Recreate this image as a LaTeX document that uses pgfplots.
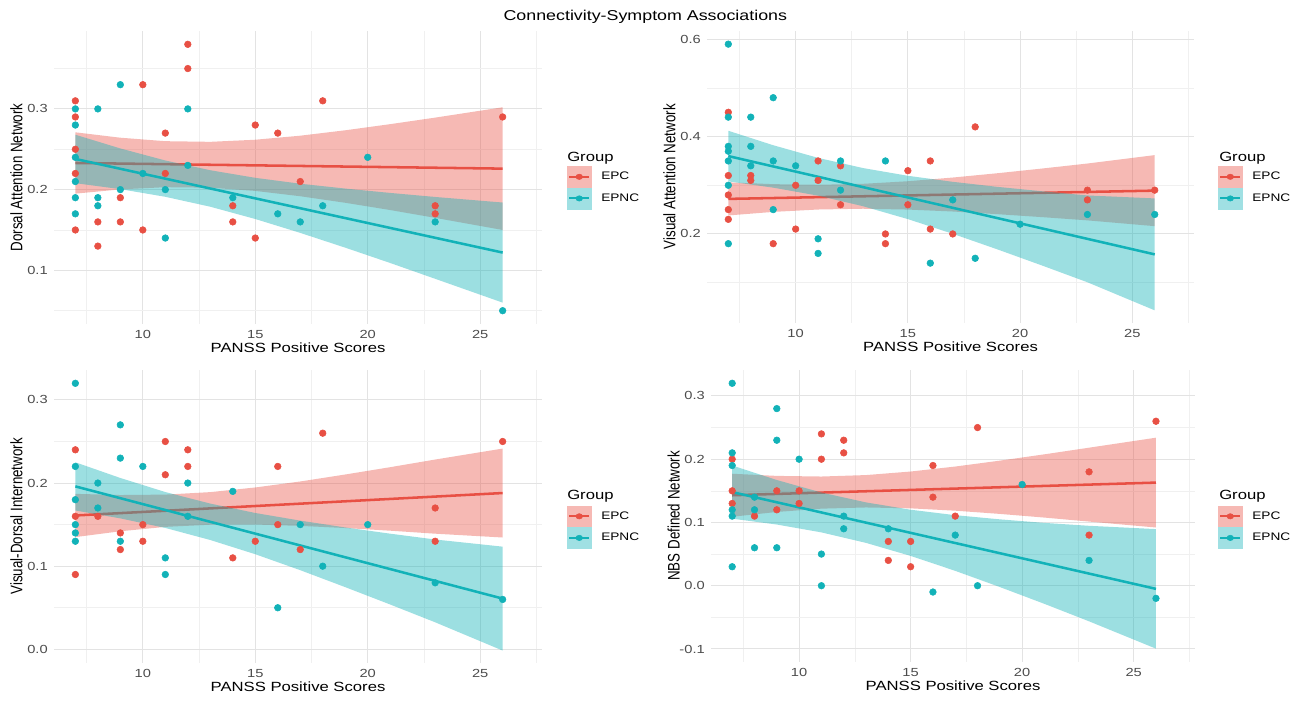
\documentclass[border=0pt]{standalone}
\usepackage{fontspec}
\setmainfont{Liberation Sans}[FakeStretch=1.25]
\newfontfamily\ylabfont{Liberation Sans}
\usepackage{pgfplots}
\usepackage{pgfplotstable}
\pgfplotsset{compat=1.18}
\definecolor{epc}{RGB}{232,80,68}
\definecolor{epnc}{RGB}{18,178,184}

% ---------------- data: points ----------------
\pgfplotstableread{
x y
7 0.31
7 0.29
7 0.25
7 0.22
7 0.15
8 0.16
8 0.13
9 0.19
9 0.16
10 0.33
10 0.15
11 0.27
11 0.22
12 0.38
12 0.35
14 0.18
14 0.16
15 0.28
15 0.14
16 0.27
17 0.21
18 0.31
23 0.18
23 0.17
26 0.29
}\Aepc
\pgfplotstableread{
x y
7 0.30
7 0.28
7 0.24
7 0.21
7 0.19
7 0.17
8 0.30
8 0.19
8 0.18
9 0.33
9 0.20
10 0.22
11 0.20
11 0.14
12 0.30
12 0.23
14 0.19
16 0.17
17 0.16
18 0.18
20 0.24
23 0.16
26 0.05
}\Aepnc
\pgfplotstableread{
x y
7 0.45
7 0.32
7 0.28
7 0.25
7 0.23
8 0.32
8 0.31
9 0.18
10 0.30
10 0.21
11 0.35
11 0.31
12 0.34
12 0.26
14 0.20
14 0.18
15 0.33
15 0.26
16 0.35
16 0.21
17 0.20
18 0.42
23 0.29
23 0.27
26 0.29
}\Bepc
\pgfplotstableread{
x y
7 0.59
7 0.44
7 0.38
7 0.37
7 0.35
7 0.30
7 0.18
8 0.44
8 0.38
8 0.34
9 0.48
9 0.35
9 0.25
10 0.34
11 0.19
11 0.16
12 0.35
12 0.29
14 0.35
16 0.14
17 0.27
18 0.15
20 0.22
23 0.24
26 0.24
}\Bepnc
\pgfplotstableread{
x y
7 0.24
7 0.16
7 0.09
8 0.16
9 0.14
9 0.12
10 0.15
10 0.13
11 0.25
11 0.21
12 0.24
12 0.22
14 0.11
15 0.13
16 0.22
16 0.15
17 0.12
18 0.26
23 0.17
23 0.13
26 0.25
}\Cepc
\pgfplotstableread{
x y
7 0.32
7 0.22
7 0.18
7 0.15
7 0.14
7 0.13
8 0.20
8 0.17
9 0.27
9 0.23
9 0.13
10 0.22
11 0.11
11 0.09
12 0.20
12 0.16
14 0.19
16 0.05
17 0.15
18 0.10
20 0.15
23 0.08
26 0.06
}\Cepnc
\pgfplotstableread{
x y
7 0.20
7 0.15
7 0.13
8 0.11
9 0.15
9 0.12
10 0.15
10 0.13
11 0.24
11 0.20
12 0.23
12 0.21
14 0.07
14 0.04
15 0.07
15 0.03
16 0.19
16 0.14
17 0.11
18 0.25
23 0.18
23 0.08
26 0.26
}\Depc
\pgfplotstableread{
x y
7 0.32
7 0.21
7 0.19
7 0.12
7 0.11
7 0.03
8 0.14
8 0.12
8 0.06
9 0.28
9 0.23
9 0.06
10 0.20
11 0.05
11 0.00
12 0.11
12 0.09
14 0.09
16 -0.01
17 0.08
18 0.00
20 0.16
23 0.04
26 -0.02
}\Depnc

\pgfplotsset{
  panel/.style={
    scale only axis,
    xmin=6.05, xmax=27.75,
    xtick={10,15,20,25}, xticklabels={10,15,20,25},
    minor xtick={7.5,12.5,17.5,22.5,27.5},
    grid=both,
    major grid style={draw=black!11, line width=0.75pt},
    minor grid style={draw=black!6, line width=0.45pt},
    axis line style={draw=none},
    major tick length=0pt, minor tick length=0pt,
    tick style={draw=none}, minor tick style={draw=none}, major tick style={draw=none},
    tick label style={font=\fontsize{8.8}{10}\selectfont, text=black!70, inner sep=0pt},
    xticklabel style={anchor=north, yshift=-4.8pt},
    yticklabel style={anchor=east, xshift=-4.5pt},
    xlabel={PANSS Positive Scores},
    xlabel style={at={(axis description cs:0.5,0)}, anchor=north, yshift=-14pt, inner sep=0pt, font=\fontsize{10}{12}\selectfont},
    ylabel style={at={(axis description cs:-0.064,0.5)}, anchor=south, inner sep=0pt, yscale=1.25, font=\ylabfont\fontsize{10}{12}\selectfont},
    legend cell align=left,
    legend style={draw=none, fill=none, inner sep=0pt, outer sep=0pt, anchor=north west,
      font=\fontsize{8.2}{10}\selectfont, nodes={inner sep=0pt}, row sep=0pt, column sep=7.3pt},
  },
  ptsred/.style={only marks, mark=*, mark size=2.5pt, color=epc, mark options={draw=epc, fill=epc}, forget plot},
  ptscyan/.style={only marks, mark=*, mark size=2.5pt, color=epnc, mark options={draw=epnc, fill=epnc}, forget plot},
  ribred/.style={draw=none, fill=epc, fill opacity=0.4, forget plot},
  ribcyan/.style={draw=none, fill=epnc, fill opacity=0.42, forget plot},
  linered/.style={draw=epc, line width=1.9pt, forget plot},
  linecyan/.style={draw=epnc, line width=1.9pt, forget plot},
  keys/.code={
    \addlegendimage{legend image code/.code={
      \fill[epc!40] (0pt,-7.9pt) rectangle (18pt,7.9pt);
      \draw[epc, line width=1.5pt] (1.5pt,0pt) -- (16.5pt,0pt);
      \fill[epc] (9pt,0pt) ellipse (2.5pt and 2pt);}}
    \addlegendentry{EPC}
    \addlegendimage{legend image code/.code={
      \fill[epnc!40] (0pt,-7.9pt) rectangle (18pt,7.9pt);
      \draw[epnc, line width=1.5pt] (1.5pt,0pt) -- (16.5pt,0pt);
      \fill[epnc] (9pt,0pt) ellipse (2.5pt and 2pt);}}
    \addlegendentry{EPNC}
  },
}

\begin{document}
\begin{tikzpicture}
\path[use as bounding box] (0pt,0pt) rectangle (979.5pt,-525.75pt);

\node[anchor=base, font=\fontsize{10.7}{13}\selectfont] at (484pt,-15.4pt) {Connectivity-Symptom Associations};

% ---------------- Panel A ----------------
\begin{axis}[panel, at={(40.5pt,-243pt)}, anchor=south west, width=366pt, height=219.75pt,
  ymin=0.0335, ymax=0.3965, ytick={0.1,0.2,0.3}, yticklabels={0.1,0.2,0.3},
  minor ytick={0.05,0.15,0.25,0.35},
  ylabel={Dorsal Attention Network},
  legend style={at={(axis description cs:1.0512,0.5392)}}]
\addplot[ptsred] table {\Aepc};
\addplot[ptscyan] table {\Aepnc};
\addplot[ribred] coordinates {(7,0.271) (9,0.2643) (11,0.260) (13,0.2592) (15,0.2618) (17,0.2668) (19,0.2735) (21,0.2811) (23,0.2892) (26,0.302)
 (26,0.150) (23,0.165) (21,0.1747) (19,0.1837) (17,0.1918) (15,0.1984) (13,0.2024) (11,0.203) (9,0.2003) (7,0.195)} -- cycle;
\addplot[linered] coordinates {(7,0.233) (26,0.226)};
\addplot[ribcyan] coordinates {(7,0.268) (9,0.251) (11,0.2361) (13,0.224) (15,0.2146) (17,0.2073) (19,0.2013) (21,0.1959) (23,0.1909) (26,0.184)
 (26,0.060) (23,0.0895) (21,0.1091) (19,0.1281) (17,0.1464) (15,0.1636) (13,0.1788) (11,0.1911) (9,0.2006) (7,0.208)} -- cycle;
\addplot[linecyan] coordinates {(7,0.238) (26,0.122)};
\pgfplotsset{keys}
\end{axis}

% ---------------- Panel B ----------------
\begin{axis}[panel, at={(530.25pt,-241.875pt)}, anchor=south west, width=365.25pt, height=218.625pt,
  ymin=0.018, ymax=0.617, ytick={0.2,0.4,0.6}, yticklabels={0.2,0.4,0.6},
  minor ytick={0.1,0.3,0.5},
  ylabel={Visual Attention Network},
  legend style={at={(axis description cs:1.0493,0.5369)}}]
\addplot[ptsred] table {\Bepc};
\addplot[ptscyan] table {\Bepnc};
\addplot[ribred] coordinates {(7,0.306) (9,0.3023) (11,0.3010) (13,0.3030) (15,0.3083) (17,0.3159) (19,0.3248) (21,0.3345) (23,0.3447) (26,0.362)
 (26,0.216) (23,0.2279) (21,0.2345) (19,0.2406) (17,0.2461) (15,0.2501) (13,0.2518) (11,0.2502) (9,0.2453) (7,0.238)} -- cycle;
\addplot[linered] coordinates {(7,0.272) (26,0.289)};
\addplot[ribcyan] coordinates {(7,0.412) (9,0.3823) (11,0.3563) (13,0.3354) (15,0.3195) (17,0.3071) (19,0.2967) (21,0.2876) (23,0.2791) (26,0.273)
 (26,0.043) (23,0.1007) (21,0.1348) (19,0.1681) (17,0.2003) (15,0.2305) (13,0.2570) (11,0.2787) (9,0.2951) (7,0.308)} -- cycle;
\addplot[linecyan] coordinates {(7,0.360) (26,0.158)};
\pgfplotsset{keys}
\end{axis}

% ---------------- Panel C ----------------
\begin{axis}[panel, at={(40.5pt,-496.95pt)}, anchor=south west, width=366pt, height=219.45pt,
  ymin=-0.016, ymax=0.336, ytick={0,0.1,0.2,0.3}, yticklabels={0.0,0.1,0.2,0.3},
  minor ytick={0.05,0.15,0.25},
  ylabel={Visual-Dorsal Internetwork},
  legend style={at={(axis description cs:1.0512,0.5369)}}]
\addplot[ptsred] table {\Cepc};
\addplot[ptscyan] table {\Cepnc};
\addplot[ribred] coordinates {(7,0.187) (9,0.1856) (11,0.1861) (13,0.1891) (15,0.1947) (17,0.2019) (19,0.2103) (21,0.2191) (23,0.2283) (26,0.2415)
 (26,0.1345) (23,0.1391) (21,0.1427) (19,0.1459) (17,0.1485) (15,0.1501) (13,0.1499) (11,0.1473) (9,0.1420) (7,0.135)} -- cycle;
\addplot[linered] coordinates {(7,0.161) (26,0.188)};
\addplot[ribcyan] coordinates {(7,0.225) (9,0.2061) (11,0.1892) (13,0.1753) (15,0.1640) (17,0.1548) (19,0.1466) (21,0.1391) (23,0.1321) (26,0.1235)
 (26,-0.0015) (23,0.0325) (21,0.0539) (19,0.0748) (17,0.0952) (15,0.1144) (13,0.1315) (11,0.1460) (9,0.1575) (7,0.167)} -- cycle;
\addplot[linecyan] coordinates {(7,0.196) (26,0.061)};
\pgfplotsset{keys}
\end{axis}

% ---------------- Panel D ----------------
\begin{axis}[panel, at={(533.25pt,-496.2pt)}, anchor=south west, width=363pt, height=218.7pt,
  ymin=-0.12, ymax=0.341, ytick={-0.1,0,0.1,0.2,0.3}, yticklabels={-0.1,0.0,0.1,0.2,0.3},
  minor ytick={-0.05,0.05,0.15,0.25},
  ylabel={NBS Defined Network},
  legend style={at={(axis description cs:1.0475,0.5353)}}]
\addplot[ptsred] table {\Depc};
\addplot[ptscyan] table {\Depnc};
\addplot[ribred] coordinates {(7,0.177) (9,0.1736) (11,0.1726) (13,0.1749) (15,0.1805) (17,0.1884) (19,0.1977) (21,0.2077) (23,0.2182) (26,0.234)
 (26,0.092) (23,0.1014) (21,0.1077) (19,0.1135) (17,0.1186) (15,0.1223) (13,0.1237) (11,0.1218) (9,0.1166) (7,0.109)} -- cycle;
\addplot[linered] coordinates {(7,0.143) (26,0.163)};
\addplot[ribcyan] coordinates {(7,0.190) (9,0.1671) (11,0.1473) (13,0.1317) (15,0.1201) (17,0.1115) (19,0.1049) (21,0.0993) (23,0.0947) (26,0.0895)
 (26,-0.0995) (23,-0.0563) (21,-0.0287) (19,-0.0021) (17,0.0235) (15,0.0471) (13,0.0677) (11,0.0843) (9,0.0967) (7,0.106)} -- cycle;
\addplot[linecyan] coordinates {(7,0.148) (26,-0.005)};
\pgfplotsset{keys}
\end{axis}

% legend titles
\node[anchor=base west, font=\fontsize{10}{12}\selectfont, inner sep=0pt] at (425.25pt,-120.75pt) {Group};
\node[anchor=base west, font=\fontsize{10}{12}\selectfont, inner sep=0pt] at (914.25pt,-120.75pt) {Group};
\node[anchor=base west, font=\fontsize{10}{12}\selectfont, inner sep=0pt] at (425.25pt,-374.25pt) {Group};
\node[anchor=base west, font=\fontsize{10}{12}\selectfont, inner sep=0pt] at (914.25pt,-374.25pt) {Group};
\end{tikzpicture}
\end{document}
